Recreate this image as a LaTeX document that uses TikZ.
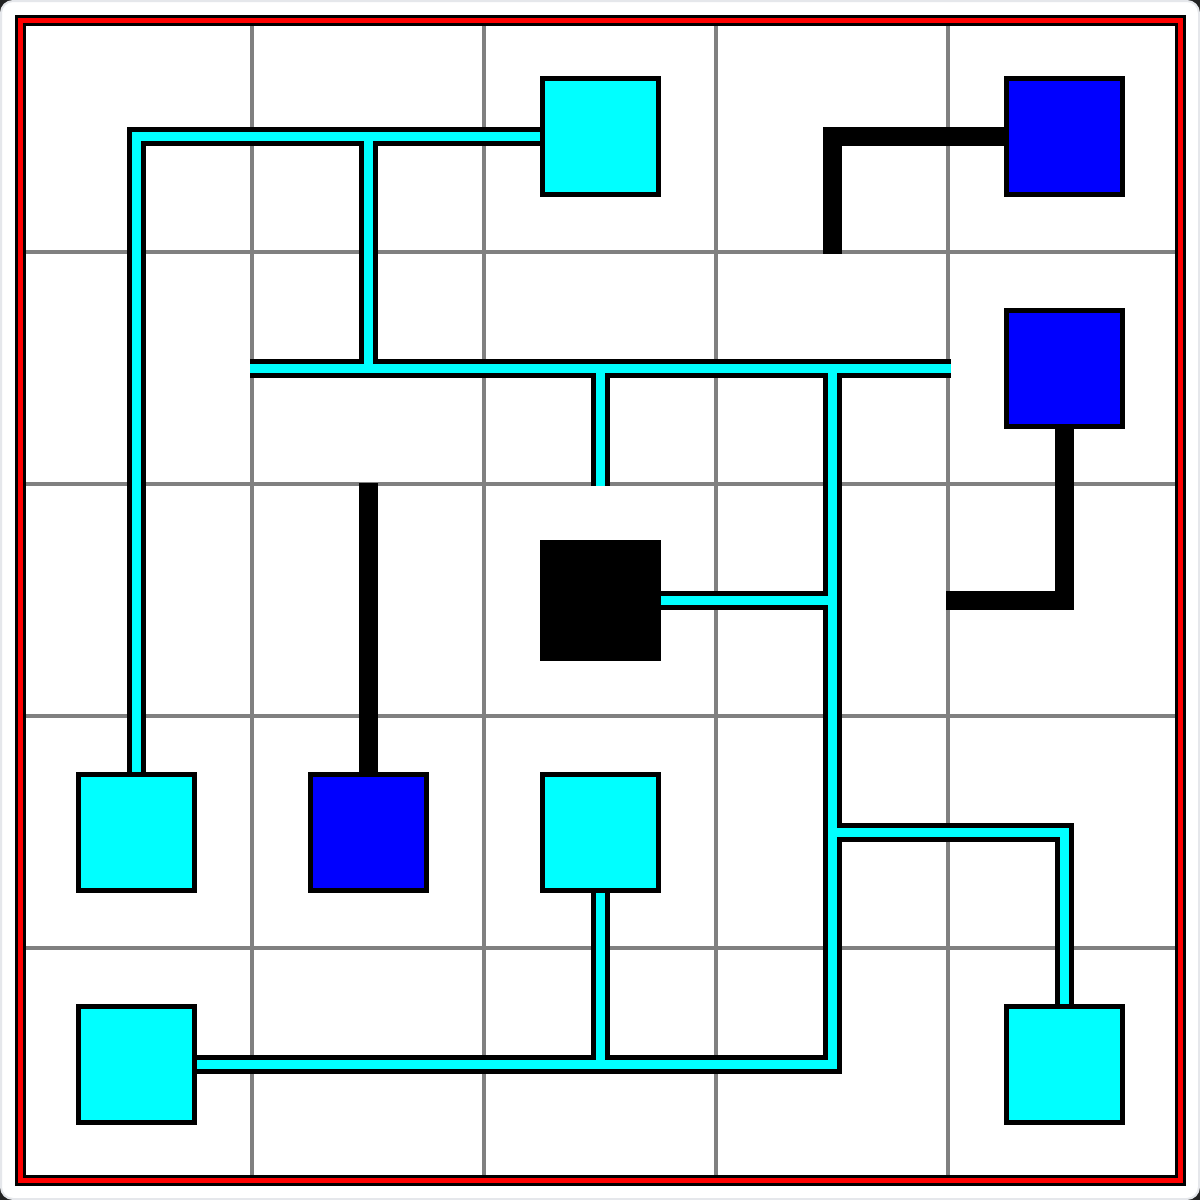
\documentclass[tikz,border=0pt]{standalone}
\usetikzlibrary{backgrounds}
\definecolor{cyn}{RGB}{0,255,255}
\definecolor{blu}{RGB}{0,0,255}
\definecolor{gridgray}{RGB}{128,128,128}
\definecolor{edgegray}{RGB}{229,231,235}
\definecolor{cornerdark}{RGB}{34,34,34}
\begin{document}
\begin{tikzpicture}[x=1pt,y=-1pt,
  sq/.style={rectangle,draw=black,line width=5pt,minimum size=116pt,inner sep=0pt},
  cyansq/.style={sq,fill=cyn},
  bluesq/.style={sq,fill=blu},
  blacksq/.style={sq,fill=black},
  gridline/.style={gridgray,line width=4.5pt},
  wireout/.style={black,line width=19pt,line cap=butt,line join=miter},
  wirein/.style={cyn,line width=9pt,line cap=butt,line join=miter},
  heavy/.style={black,line width=19pt,line cap=butt,line join=miter},
  borderout/.style={black,line width=11pt,line join=miter},
  borderin/.style={red,line width=5pt,line join=miter}]
\useasboundingbox (0,0) rectangle (1200,1200);
% squares
\node[cyansq]  (c1) at (600,136)  {};
\node[bluesq]  (b1) at (1064,136) {};
\node[bluesq]  (b2) at (1064,368) {};
\node[blacksq] (k)  at (600,600)  {};
\node[cyansq]  (c2) at (136,832)  {};
\node[bluesq]  (b3) at (368,832)  {};
\node[cyansq]  (c3) at (600,832)  {};
\node[cyansq]  (c4) at (136,1064) {};
\node[cyansq]  (c5) at (1064,1064) {};
% free ends and junctions
\coordinate (ja) at (368,136);
\coordinate (jb) at (368,368);
\coordinate (hl) at (250,368);
\coordinate (hr) at (951,368);
\coordinate (st) at (600,486);
\coordinate (jc) at (600,368);
\coordinate (jd) at (832,368);
\coordinate (je) at (832,600);
\coordinate (jf) at (832,832);
\coordinate (jg) at (600,1064);
\coordinate (bk1) at (832,254);
\coordinate (bk2) at (368,483);
\coordinate (bk3) at (946,600);
\begin{pgfonlayer}{background}
  \fill[cornerdark] (0,0) rectangle (1200,1200);
  \draw[edgegray,line width=2pt,fill=white,rounded corners=12pt] (1,1) rectangle (1199,1199);
  \foreach \v in {252,484,716,948}{
    \draw[gridline] (\v,20) -- (\v,1180);
    \draw[gridline] (20,\v) -- (1180,\v);
  }
  \draw[borderout] (20,20) rectangle (1180,1180);
  \draw[borderin] (20,20) rectangle (1180,1180);
  % black wires
  \draw[heavy] (b1.center) -| (bk1);
  \draw[heavy] (b3.center) -- (bk2);
  \draw[heavy] (b2.center) |- (bk3);
  % cyan wires: outline then fill
  \foreach \w in {wireout,wirein}{
    \draw[\w] (c1.center) -| (c2.center);
    \draw[\w] (ja) -- (jb);
    \draw[\w] (hl) -- (hr);
    \draw[\w] (jc) -- (st);
    \draw[\w] (jd) |- (c4.center);
    \draw[\w] (k.center) -- (je);
    \draw[\w] (jf) -| (c5.center);
    \draw[\w] (c3.center) -- (jg);
  }
\end{pgfonlayer}
\end{tikzpicture}
\end{document}
